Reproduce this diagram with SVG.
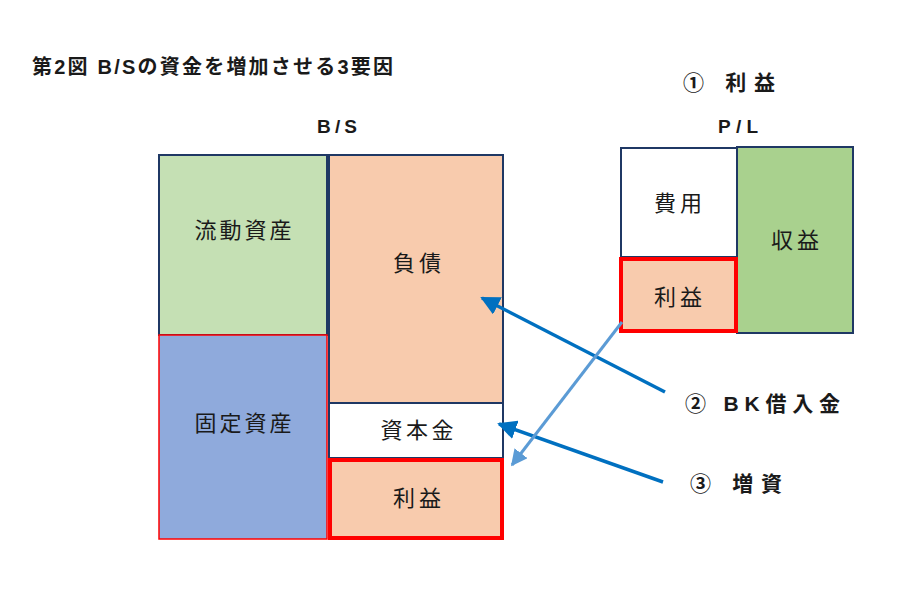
<svg xmlns="http://www.w3.org/2000/svg" width="900" height="590" viewBox="0 0 900 590">
<style>
text{font-family:"Liberation Sans","Noto Sans CJK JP",sans-serif;fill:#1a1a1a}
.t{font-size:20px;font-weight:700}
.h{font-size:19px;font-weight:700}
.h2{font-size:21px;font-weight:700}
.lb{font-size:22px;text-anchor:middle;font-family:"Noto Sans CJK JP","Liberation Sans",sans-serif}
.nv{stroke:#1F3864;stroke-width:2}
.rd{stroke:#FF0000;stroke-width:1.5}
.rdk{stroke:#FF0000;stroke-width:4}
.a1{stroke:#0070C0;stroke-width:3.5;fill:none}
.a2{stroke:#5B9BD5;stroke-width:3;fill:none}
</style>
<defs>
<marker id="m1" viewBox="0 0 10 10" refX="9" refY="5" markerWidth="5.5" markerHeight="5.5" orient="auto" markerUnits="strokeWidth"><path d="M0,0 L10,5 L0,10 z" fill="#0070C0"/></marker>
<marker id="m2" viewBox="0 0 10 10" refX="9" refY="5" markerWidth="5.5" markerHeight="5.5" orient="auto" markerUnits="strokeWidth"><path d="M0,0 L10,5 L0,10 z" fill="#5B9BD5"/></marker>
</defs>
<rect width="900" height="590" fill="#fff"/>
<text class="t" x="32" y="74" textLength="361" lengthAdjust="spacing">第2図  B/Sの資金を増加させる3要因</text>
<text class="h" x="317" y="133" textLength="40" lengthAdjust="spacing">B/S</text>
<text class="h2" x="683" y="90" textLength="92" lengthAdjust="spacing">① 利益</text>
<text class="h" x="718" y="133" textLength="40" lengthAdjust="spacing">P/L</text>

<g id="ryudo"><rect x="159" y="155" width="168" height="180" fill="#C5E0B4" class="nv"/><text class="lb" x="243" y="238" textLength="97" lengthAdjust="spacing">流動資産</text></g>
<g id="kotei"><rect x="159" y="335" width="168" height="204" fill="#8FAADC" class="rd"/><text class="lb" x="243" y="431" textLength="97" lengthAdjust="spacing">固定資産</text></g>
<g id="fusai"><rect x="329" y="155" width="174" height="248" fill="#F8CBAD" class="nv"/><text class="lb" x="417" y="271" textLength="48" lengthAdjust="spacing">負債</text></g>
<g id="shihonkin"><rect x="329" y="403" width="174" height="55" fill="#fff" class="nv"/><text class="lb" x="417" y="438" textLength="73" lengthAdjust="spacing">資本金</text></g>
<g id="rieki-bs"><rect x="330" y="460" width="172" height="78" fill="#F8CBAD" class="rdk"/><text class="lb" x="417" y="506" textLength="48" lengthAdjust="spacing">利益</text></g>

<g id="hiyo"><rect x="621" y="148" width="116" height="109" fill="#fff" class="nv"/><text class="lb" x="678" y="211" textLength="48" lengthAdjust="spacing">費用</text></g>
<g id="shueki"><rect x="737" y="147" width="116" height="186" fill="#A9D18E" class="nv"/><text class="lb" x="795" y="248" textLength="48" lengthAdjust="spacing">収益</text></g>
<g id="rieki-pl"><rect x="621" y="259" width="115" height="72" fill="#F8CBAD" class="rdk"/><text class="lb" x="678" y="305" textLength="48" lengthAdjust="spacing">利益</text></g>

<g id="label2"><text class="h2" x="685" y="411" textLength="155" lengthAdjust="spacing">② BK借入金</text></g>
<g id="label3"><text class="h2" x="690" y="491" textLength="92" lengthAdjust="spacing">③ 増資</text></g>

<g id="connectors">
<line class="a1" x1="665" y1="392" x2="482" y2="298" marker-end="url(#m1)"/>
<line class="a1" x1="663" y1="482" x2="499" y2="424" marker-end="url(#m1)"/>
<line class="a2" x1="622" y1="322" x2="512" y2="465" marker-end="url(#m2)"/>
</g>
</svg>
